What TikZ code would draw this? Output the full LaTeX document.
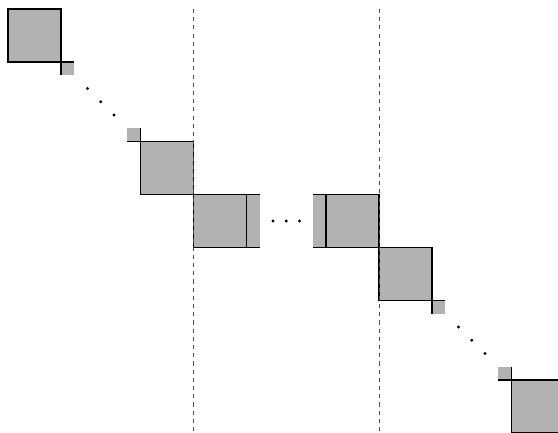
\documentclass[tikz,border=0pt]{standalone}
\usepackage{tikz}

\begin{document}
\begin{tikzpicture}[x=1cm, y=-1cm,
		blk/.style={fill=black!30},
		edge/.style={line width=0.6pt},
		sep/.style={line width=0.5pt, black!70, dash pattern=on 2.2pt off 2.2pt},
		dot/.style={fill=black}]
		\useasboundingbox (-0.151,-0.17) rectangle (10.377,7.981);
		\clip (-0.151,-0.17) rectangle (10.377,7.981);
		
		% upper left blocks
		\fill[blk] (0,0) rectangle (1,1);
		\fill[blk] (1,1) rectangle (1.25,1.25);
		\draw[edge] (0,0) rectangle (1,1);
		\draw[edge] (1,1) -- (1.25,1);
		\draw[edge] (1,1) -- (1,1.25);
		\fill[dot] (1.5,1.5) circle (0.03);
		\fill[dot] (1.75,1.75) circle (0.03);
		\fill[dot] (2,2) circle (0.03);
		\fill[blk] (2.25,2.25) rectangle (2.5,2.5);
		\fill[blk] (2.5,2.5) rectangle (3.5,3.5);
		\draw[edge] (2.5,2.5) rectangle (3.5,3.5);
		\draw[edge] (2.25,2.5) -- (2.5,2.5);
		\draw[edge] (2.5,2.25) -- (2.5,2.5);
		
		% middle row
		\fill[blk] (3.5,3.5) rectangle (4.75,4.5);
		\draw[edge] (3.5,3.5) rectangle (4.5,4.5);
		\draw[edge] (4.5,3.5) -- (4.75,3.5);
		\draw[edge] (4.5,4.5) -- (4.75,4.5);
		\fill[dot] (5,4) circle (0.03);
		\fill[dot] (5.25,4) circle (0.03);
		\fill[dot] (5.5,4) circle (0.03);
		\fill[blk] (5.75,3.5) rectangle (7,4.5);
		\draw[edge] (6,3.5) rectangle (7,4.5);
		\draw[edge] (5.75,3.5) -- (6,3.5);
		\draw[edge] (5.75,4.5) -- (6,4.5);
		
		% lower right blocks
		\fill[blk] (7,4.5) rectangle (8,5.5);
		\fill[blk] (8,5.5) rectangle (8.25,5.75);
		\draw[edge] (7,4.5) rectangle (8,5.5);
		\draw[edge] (8,5.5) -- (8.25,5.5);
		\draw[edge] (8,5.5) -- (8,5.75);
		\fill[dot] (8.5,6) circle (0.03);
		\fill[dot] (8.75,6.25) circle (0.03);
		\fill[dot] (9,6.5) circle (0.03);
		\fill[blk] (9.25,6.75) rectangle (9.5,7);
		\fill[blk] (9.5,7) rectangle (10.5,8);
		\draw[edge] (9.5,7) rectangle (10.5,8);
		\draw[edge] (9.25,7) -- (9.5,7);
		\draw[edge] (9.5,6.75) -- (9.5,7);
		
		% separators
		\draw[sep] (3.5,0) -- (3.5,8);
		\draw[sep] (7,0) -- (7,8);
		
	\end{tikzpicture}
\end{document}
